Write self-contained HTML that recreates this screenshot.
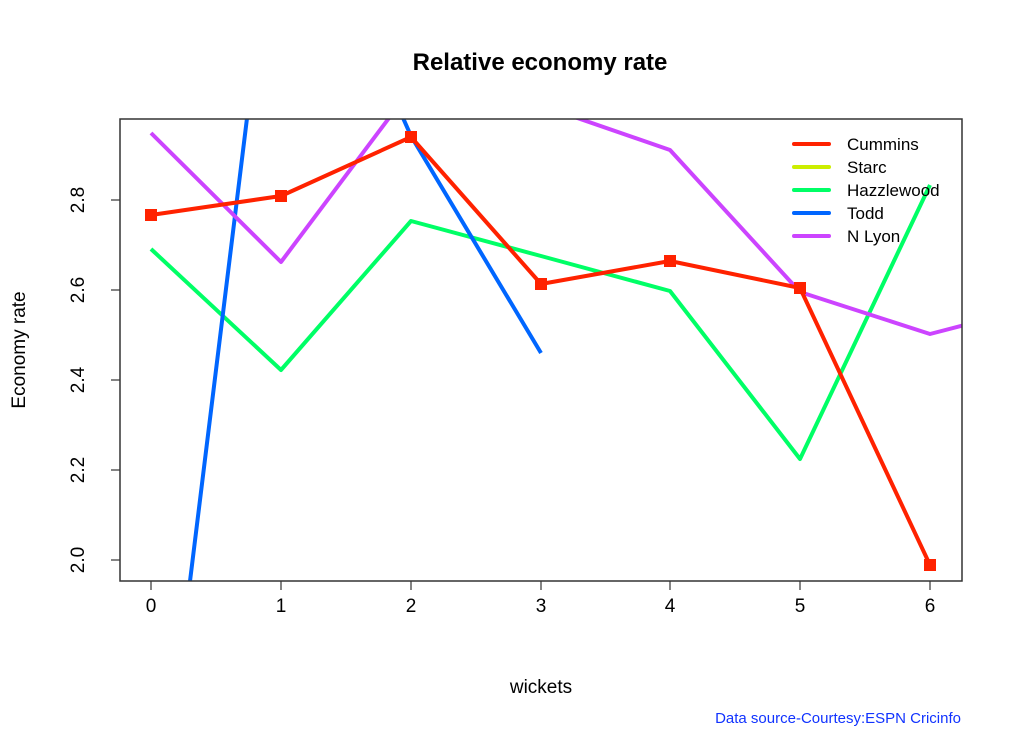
<!DOCTYPE html>
<html><head><style>html,body{margin:0;padding:0;background:#fff;width:1023px;height:731px;overflow:hidden;position:relative}svg{display:block;position:absolute;left:0;top:0}</style></head><body>
<svg width="1023" height="731" viewBox="0 0 1023 731" xmlns="http://www.w3.org/2000/svg" font-family="Liberation Sans, Arial, sans-serif">
<defs><clipPath id="c"><rect x="120" y="119" width="842" height="462"/></clipPath></defs>
<text x="540" y="70" font-size="24" font-weight="bold" text-anchor="middle">Relative economy rate</text>
<g clip-path="url(#c)" fill="none" stroke-width="4" stroke-linejoin="round">
<polyline stroke="#00ff66" points="151,249 281,370 411,221 541,256 670,291 800,459 930,185"/>
<polyline stroke="#0066ff" points="151,898 281,-158 411,136 541,353"/>
<polyline stroke="#cc44ff" points="151,133 281,262 395,110 560,112 670,150 800,292 930,334 1060,300"/>
<polyline stroke="#ff2200" points="151,215 281,196 411,137 541,284 670,261 800,288 930,565"/>
</g>
<g fill="#ff2200">
<rect x="145" y="209" width="12" height="12"/><rect x="275" y="190" width="12" height="12"/><rect x="405" y="131" width="12" height="12"/><rect x="535" y="278" width="12" height="12"/><rect x="664" y="255" width="12" height="12"/><rect x="794" y="282" width="12" height="12"/><rect x="924" y="559" width="12" height="12"/>
</g>
<rect x="120" y="119" width="842" height="462" fill="none" stroke="#333" stroke-width="1.5"/>
<g stroke="#333" stroke-width="1.2">
<line x1="151" y1="581" x2="151" y2="590"/><line x1="281" y1="581" x2="281" y2="590"/><line x1="411" y1="581" x2="411" y2="590"/><line x1="541" y1="581" x2="541" y2="590"/><line x1="670" y1="581" x2="670" y2="590"/><line x1="800" y1="581" x2="800" y2="590"/><line x1="930" y1="581" x2="930" y2="590"/>
<line x1="111" y1="200" x2="120" y2="200"/><line x1="111" y1="290" x2="120" y2="290"/><line x1="111" y1="380" x2="120" y2="380"/><line x1="111" y1="470" x2="120" y2="470"/><line x1="111" y1="560" x2="120" y2="560"/>
</g>
<g font-size="19" text-anchor="middle">
<text x="151" y="612">0</text><text x="281" y="612">1</text><text x="411" y="612">2</text><text x="541" y="612">3</text><text x="670" y="612">4</text><text x="800" y="612">5</text><text x="930" y="612">6</text>
<text transform="translate(84,200) rotate(-90)">2.8</text>
<text transform="translate(84,290) rotate(-90)">2.6</text>
<text transform="translate(84,380) rotate(-90)">2.4</text>
<text transform="translate(84,470) rotate(-90)">2.2</text>
<text transform="translate(84,560) rotate(-90)">2.0</text>
<text x="541" y="693">wickets</text>
<text transform="translate(25,350) rotate(-90)">Economy rate</text>
</g>
<g stroke-width="4" stroke-linecap="round">
<line x1="794" y1="144" x2="829" y2="144" stroke="#ff2200"/>
<line x1="794" y1="167" x2="829" y2="167" stroke="#ccee00"/>
<line x1="794" y1="190" x2="829" y2="190" stroke="#00ff66"/>
<line x1="794" y1="213" x2="829" y2="213" stroke="#0066ff"/>
<line x1="794" y1="236" x2="829" y2="236" stroke="#cc44ff"/>
</g>
<g font-size="17">
<text x="847" y="150">Cummins</text><text x="847" y="173">Starc</text><text x="847" y="196">Hazzlewood</text><text x="847" y="219">Todd</text><text x="847" y="242">N Lyon</text>
</g>
<text x="961" y="723" font-size="15" fill="#1133ff" text-anchor="end">Data source-Courtesy:ESPN Cricinfo</text>
</svg>
</body></html>
